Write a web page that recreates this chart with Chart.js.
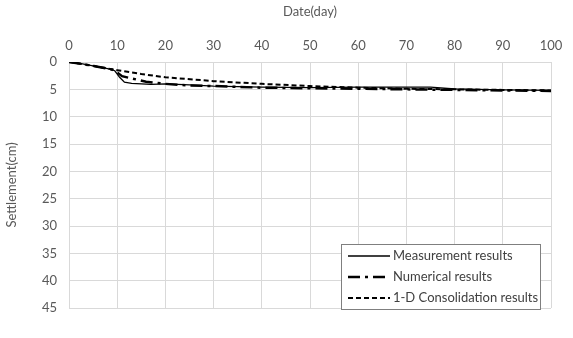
<!DOCTYPE html>
<html><head><meta charset="utf-8">
<script src="https://cdn.jsdelivr.net/npm/chart.js@4/dist/chart.umd.min.js"></script>
<style>html,body{margin:0;padding:0;background:#fff;}#wrap{width:573px;height:338px;}</style>
</head><body><div id="wrap"><canvas id="c" width="573" height="338"></canvas></div>
<script>
const xTicks = [0,10,20,30,40,50,60,70,80,90,100];
const yTicks = [0,5,10,15,20,25,30,35,40,45];

const measDays = [0,2,5,8,9.5,10.5,11.5,13,17,20,25,30,40,50,60,70,75,80,90,100];
const measVals = [0,0.2,0.7,1.2,1.6,2.8,3.7,3.9,4.1,4.0,4.2,4.4,4.6,4.7,4.6,4.6,4.6,4.9,5.1,5.2];

const numDays = [0,5,9,10,11,13,16,20,25,30,40,50,60,70,80,90,100];
const numVals = [0,0.7,1.4,1.9,2.6,3.0,3.6,4.0,4.3,4.4,4.7,4.8,4.9,5.0,5.1,5.2,5.3];

const conDays = [0,5,10,15,20,30,40,50,60,70,80,90,100];
const conVals = [0,0.7,1.5,2.2,2.8,3.5,4.0,4.4,4.7,4.9,5.0,5.1,5.2];

const seriesNames = ["Measurement results","Numerical results","1-D Consolidation results"];

function pts(d,v){return d.map((x,i)=>({x:x,y:v[i]}));}

const FONT = "Lato, 'Open Sans', sans-serif";

const legendPlugin = {
  id:'boxLegend',
  afterDraw(chart){
    const ctx = chart.ctx;
    const x0 = 341, y0 = 244, w = 199, h = 65;
    ctx.save();
    ctx.fillStyle = '#fff';
    ctx.fillRect(x0,y0,w,h);
    ctx.strokeStyle = '#7f7f7f';
    ctx.lineWidth = 1;
    ctx.strokeRect(x0+0.5,y0+0.5,w,h);
    ctx.font = "13px " + FONT;
    ctx.textBaseline = 'middle';
    chart.data.datasets.forEach((ds,i)=>{
      const yy = y0 + 12 + i*21;
      ctx.beginPath();
      ctx.setLineDash(ds.borderDash || []);
      ctx.lineWidth = ds.borderWidth;
      ctx.strokeStyle = ds.borderColor;
      ctx.moveTo(x0+7, yy);
      ctx.lineTo(x0+49, yy);
      ctx.stroke();
      ctx.setLineDash([]);
      ctx.fillStyle = '#404040';
      ctx.fillText(ds.label, x0+52, yy);
    });
    ctx.restore();
  }
};

new Chart(document.getElementById('c'), {
  type:'line',
  data:{
    datasets:[
      {label:seriesNames[0], data:pts(measDays,measVals), borderColor:'#000', borderWidth:1.3, pointRadius:0, tension:0, fill:false},
      {label:seriesNames[1], data:pts(numDays,numVals), borderColor:'#000', borderWidth:2.5, borderDash:[12,5,3,5], pointRadius:0, tension:0, fill:false},
      {label:seriesNames[2], data:pts(conDays,conVals), borderColor:'#000', borderWidth:2, borderDash:[5,3], pointRadius:0, tension:0, fill:false}
    ]
  },
  options:{
    responsive:false,
    animation:false,
    layout:{padding:{left:4,top:4,right:22,bottom:30}},
    plugins:{legend:{display:false},tooltip:{enabled:false}},
    scales:{
      x:{type:'linear', position:'top', min:0, max:100,
        afterBuildTicks(s){s.ticks = xTicks.map(v=>({value:v}));},
        afterFit(s){s.height = 58;},
        grid:{color:'#d9d9d9', drawTicks:false, lineWidth:1},
        border:{display:false},
        ticks:{color:'#595959', font:{family:FONT,size:13}, padding:8},
        title:{display:true, text:'Date(day)', color:'#595959', font:{family:FONT,size:13}, padding:{top:0,bottom:6}}
      },
      y:{type:'linear', reverse:true, min:0, max:45,
        afterBuildTicks(s){s.ticks = yTicks.map(v=>({value:v}));},
        afterFit(s){s.width = 65;},
        grid:{color:'#d9d9d9', drawTicks:false, lineWidth:1},
        border:{display:false},
        ticks:{color:'#595959', font:{family:FONT,size:13}, padding:12},
        title:{display:true, text:'Settlement(cm)', color:'#595959', font:{family:FONT,size:13}, padding:{top:0,bottom:4}}
      }
    }
  },
  plugins:[legendPlugin]
});
</script></body></html>
